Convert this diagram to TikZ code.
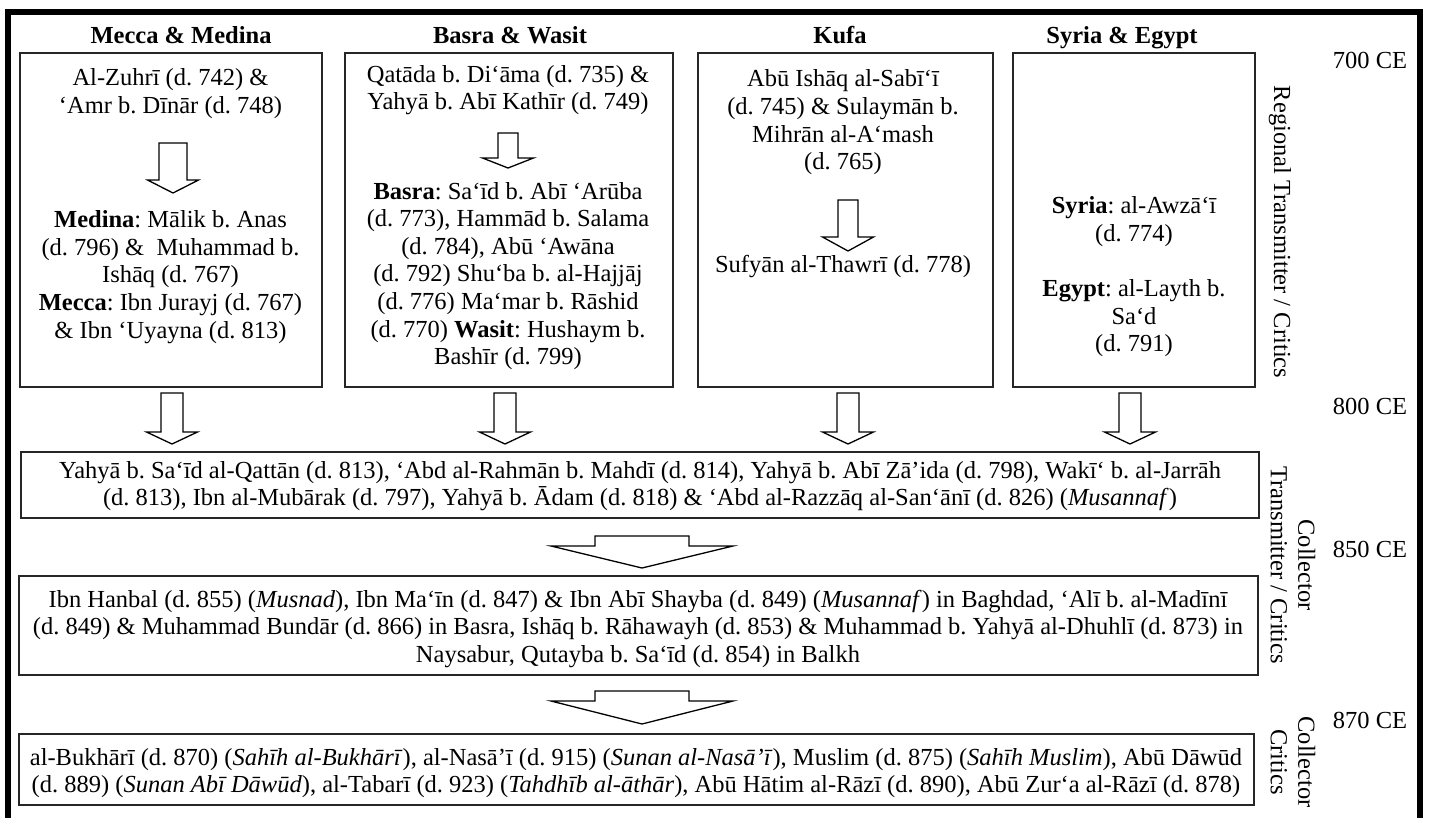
\documentclass[tikz,border=0pt]{standalone}
\usepackage{fontspec}
\setmainfont{Liberation Serif}
\usetikzlibrary{fit}
\tikzset{
  box/.style={draw=black!85, line width=1.3pt, inner sep=0pt},
  txt/.style={font=\fontsize{24.5}{27.6}\selectfont\frenchspacing, align=center, inner sep=0pt},
  hdr/.style={font=\fontsize{24.5}{27.6}\selectfont\bfseries\frenchspacing, align=center, inner sep=0pt, anchor=base},
  arrowline/.style={draw=black, line width=1.3pt, fill=white, line join=miter},
  frame/.style={draw=black, line width=6pt},
}
% block arrow: x centre, top, head base, tip, shaft half width, head half width
\newcommand\blockarrow[6]{%
  \draw[arrowline] (#1-#5,#2) -- (#1+#5,#2) -- (#1+#5,#3) -- (#1+#6,#3) -- (#1,#4) -- (#1-#6,#3) -- (#1-#5,#3) -- cycle;}
\begin{document}
\begin{tikzpicture}[x=1pt,y=-1pt]
\useasboundingbox (0,0) rectangle (1429,817);
\clip (0,0) rectangle (1429,817);
\fill[white] (0,0) rectangle (1429,817);
% outer frame (bottom edge lies outside the picture)
\draw[frame] (8,11.5) rectangle (1420,900);

% headers
\node[hdr] (h1) at (181,43) {Mecca \& Medina};
\node[hdr] (h2) at (510,43) {Basra \& Wasit};
\node[hdr] (h3) at (840,43) {Kufa};
\node[hdr] (h4) at (1122,43) {Syria \& Egypt};

% regional boxes
\node[box, fit={(20,53) (322,387)}] (b1) {};
\node[box, fit={(345,53) (673,387)}] (b2) {};
\node[box, fit={(698,53) (993,387)}] (b3) {};
\node[box, fit={(1013,53) (1255,387)}] (b4) {};

% box 1
\node[txt] (b1u) at (170.5,93.5) {Al-Zuhrī (d. 742) \&\\‘Amr b. Dīnār (d. 748)};
\blockarrow{173}{143}{180}{193}{14}{25.5}
\node[txt] (b1l) at (170.5,277) {\textbf{Medina}: Mālik b. Anas\\(d. 796) \&~ Muhammad b.\\Ishāq (d. 767)\\\textbf{Mecca}: Ibn Jurayj (d. 767)\\\& Ibn ‘Uyayna (d. 813)};

% box 2
\node[txt] (b2u) at (508,90) {Qatāda b. Di‘āma (d. 735) \&\\Yahyā b. Abī Kathīr (d. 749)};
\blockarrow{508}{133}{158}{168}{10}{25.5}
\node[txt] (b2l) at (508,276) {\textbf{Basra}: Sa‘īd b. Abī ‘Arūba\\(d. 773), Hammād b. Salama\\(d. 784), Abū ‘Awāna\\(d. 792) Shu‘ba b. al-Hajjāj\\(d. 776) Ma‘mar b. Rāshid\\(d. 770) \textbf{Wasit}: Hushaym b.\\Bashīr (d. 799)};

% box 3
\node[txt] (b3u) at (843,122.5) {Abū Ishāq al-Sabī‘ī\\(d. 745) \& Sulaymān b.\\Mihrān al-A‘mash\\(d. 765)};
\blockarrow{848}{200}{237}{251}{10}{25.5}
\node[txt] (b3l) at (843,267) {Sufyān al-Thawrī (d. 778)};

% box 4
\node[txt] (b4t) at (1134,277) {\textbf{Syria}: al-Awzā‘ī\\(d. 774)\\[27.6pt]\textbf{Egypt}: al-Layth b.\\Sa‘d\\(d. 791)};

% arrows from regional boxes to row 1
\blockarrow{172}{393}{432}{444}{11}{25.5}
\blockarrow{505}{393}{432}{444}{11}{25.5}
\blockarrow{848}{393}{432}{444}{11}{25.5}
\blockarrow{1130}{393}{432}{444}{11}{25.5}

% row 1
\node[box, fit={(21,452) (1259,518)}] (r1) {};
\node[txt] (r1t) at (640,486) {Yahyā b. Sa‘īd al-Qattān (d. 813), ‘Abd al-Rahmān b. Mahdī (d. 814), Yahyā b. Abī Zā’ida (d. 798), Wakī‘ b. al-Jarrāh\\(d. 813), Ibn al-Mubārak (d. 797), Yahyā b. Ādam (d. 818) \& ‘Abd al-Razzāq al-San‘ānī (d. 826) (\textit{Musannaf})};

\blockarrow{642}{536}{546}{568}{47}{91}

% row 2
\node[box, fit={(19,576) (1258,675)}] (r2) {};
\node[txt] (r2t) at (638,629) {Ibn Hanbal (d. 855) (\textit{Musnad}), Ibn Ma‘īn (d. 847) \& Ibn Abī Shayba (d. 849) (\textit{Musannaf}) in Baghdad, ‘Alī b. al-Madīnī\\(d. 849) \& Muhammad Bundār (d. 866) in Basra, Ishāq b. Rāhawayh (d. 853) \& Muhammad b. Yahyā al-Dhuhlī (d. 873) in\\Naysabur, Qutayba b. Sa‘īd (d. 854) in Balkh};

\blockarrow{642}{691}{701}{724}{47}{91}

% row 3
\node[box, fit={(19,734) (1254,805)}] (r3) {};
\node[txt] (r3t) at (636,773) {al-Bukhārī (d. 870) (\textit{Sahīh al-Bukhārī}), al-Nasā’ī (d. 915) (\textit{Sunan al-Nasā’ī}), Muslim (d. 875) (\textit{Sahīh Muslim}), Abū Dāwūd\\(d. 889) (\textit{Sunan Abī Dāwūd}), al-Tabarī (d. 923) (\textit{Tahdhīb al-āthār}), Abū Hātim al-Rāzī (d. 890), Abū Zur‘a al-Rāzī (d. 878)};

% side labels
\node[txt, rotate=-90] (l1) at (1280,232) {Regional Transmitter / Critics};
\node[txt, rotate=-90] (l2) at (1293,565) {Collector\\Transmitter / Critics};
\node[txt, rotate=-90] (l3) at (1293,762) {Collector\\Critics};

% dates
\node[txt] (d1) at (1370,60) {700 CE};
\node[txt] (d2) at (1370,406) {800 CE};
\node[txt] (d3) at (1370,549) {850 CE};
\node[txt] (d4) at (1370,720) {870 CE};
\end{tikzpicture}
\end{document}
